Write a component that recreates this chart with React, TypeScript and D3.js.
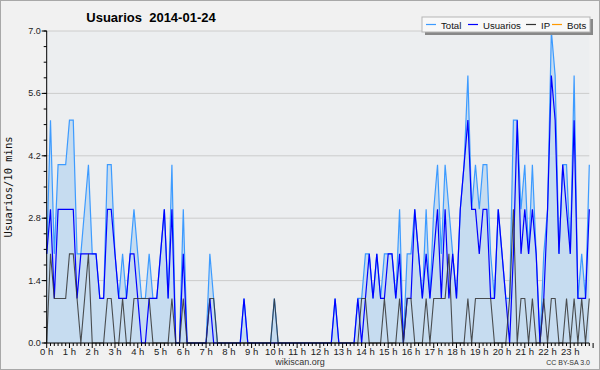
import React from 'react'
import * as d3 from 'd3'

// one value every 10 minutes, six per row = one hour per row
const usuarios = [
  2, 3, 1, 3, 3, 3,
  3, 3, 1, 2, 2, 2,
  2, 2, 1, 1, 3, 3,
  2, 1, 1, 1, 2, 2,
  1, 0, 0, 1, 1, 1,
  2, 3, 1, 3, 0, 0,
  2, 0, 0, 0, 0, 0,
  0, 1, 0, 0, 0, 0,
  0, 0, 0, 0, 1, 0,
  0, 0, 0, 0, 0, 0,
  0, 0, 0, 0, 0, 0,
  0, 0, 0, 0, 0, 0,
  0, 0, 0, 0, 1, 0,
  0, 0, 0, 0, 1, 0,
  1, 2, 1, 2, 1, 1,
  2, 2, 1, 2, 0, 1,
  1, 3, 2, 1, 2, 1,
  2, 3, 1, 3, 1, 2,
  1, 3, 4, 5, 3, 3,
  2, 3, 3, 1, 1, 3,
  2, 1, 0, 2, 5, 2,
  3, 2, 3, 2, 0, 1,
  3, 6, 5, 2, 4, 3,
  2, 5, 1, 1, 1, 3,
]

const ip = [
  0, 2, 1, 1, 1, 1,
  2, 2, 1, 0, 1, 2,
  0, 0, 0, 0, 1, 1,
  0, 0, 1, 0, 0, 1,
  1, 1, 1, 1, 0, 0,
  0, 0, 0, 1, 0, 0,
  1, 0, 0, 0, 0, 0,
  0, 1, 1, 0, 0, 0,
  0, 0, 0, 0, 0, 0,
  0, 0, 0, 0, 0, 0,
  1, 0, 0, 0, 0, 0,
  0, 0, 0, 0, 0, 0,
  0, 0, 0, 0, 0, 0,
  0, 0, 0, 0, 0, 1,
  1, 0, 0, 0, 0, 1,
  0, 0, 0, 1, 0, 1,
  1, 0, 0, 0, 1, 0,
  1, 1, 1, 1, 2, 0,
  0, 0, 0, 1, 0, 1,
  1, 1, 1, 1, 0, 0,
  0, 0, 1, 3, 0, 1,
  1, 0, 1, 0, 0, 1,
  0, 1, 1, 0, 0, 1,
  0, 1, 0, 1, 0, 1,
]

const total = [
  2, 5, 2, 4, 4, 4,
  5, 5, 2, 2, 3, 4,
  2, 2, 1, 1, 4, 4,
  2, 1, 2, 1, 2, 3,
  2, 1, 1, 2, 1, 1,
  2, 3, 1, 4, 0, 0,
  3, 0, 0, 0, 0, 0,
  0, 2, 1, 0, 0, 0,
  0, 0, 0, 0, 1, 0,
  0, 0, 0, 0, 0, 0,
  1, 0, 0, 0, 0, 0,
  0, 0, 0, 0, 0, 0,
  0, 0, 0, 0, 1, 0,
  0, 0, 0, 0, 1, 1,
  2, 2, 1, 2, 1, 2,
  2, 2, 1, 3, 0, 2,
  2, 3, 2, 1, 3, 1,
  3, 4, 2, 4, 3, 2,
  1, 3, 4, 6, 3, 4,
  3, 4, 4, 2, 1, 3,
  2, 1, 1, 5, 5, 3,
  4, 2, 4, 2, 0, 2,
  3, 7, 6, 2, 4, 4,
  2, 6, 1, 2, 1, 4,
]

const yTicks = [0, 1.4, 2.8, 4.2, 5.6, 7.0]
const hourLabels = d3.range(24).map((h) => `${h} h`)
const legendItems = [
  { name: 'Total', color: '#3d9bff', at: 426 },
  { name: 'Usuarios', color: '#0000ff', at: 468 },
  { name: 'IP', color: '#333333', at: 526 },
  { name: 'Bots', color: '#ff9900', at: 552 },
]

const W = 600
const H = 370
const margin = { top: 31, right: 10.7, bottom: 27, left: 46.7 }

const App = () => {
  const x = d3.scaleLinear().domain([0, total.length - 1]).range([margin.left, W - margin.right])
  const y = d3.scaleLinear().domain([0, 7]).range([H - margin.bottom, margin.top])
  const step = x(1) - x(0)

  const line = d3.line<number>().x((d, i) => x(i)).y((d) => y(d))
  const area = d3.area<number>().x((d, i) => x(i)).y0(y(0)).y1((d) => y(d))

  const minorY = d3.range(0, 7.001, 0.35)
  const minorX = d3.range(0, total.length + 1)
  const font = 'Liberation Sans, Arial, sans-serif'

  return (
    <svg width={W} height={H} style={{ position: 'absolute', left: 0, top: 0, display: 'block' }}>
      <rect x={0.5} y={0.5} width={W - 1} height={H - 1} fill="#f1f1f1" stroke="#a8a8a8" />
      <rect x={x(0)} y={y(7)} width={x(total.length - 1) - x(0)} height={y(0) - y(7)} fill="#eceef0" />

      <text x={151} y={22} textAnchor="middle" fontFamily={font} fontWeight="bold" fontSize={13} style={{ whiteSpace: 'pre' }}>
        {'Usuarios  2014-01-24'}
      </text>

      {yTicks.map((t) => (
        <g key={t}>
          <line x1={x(0)} x2={x(total.length - 1)} y1={y(t)} y2={y(t)} stroke="#cccccc" />
          <line x1={x(0) - 5} x2={x(0)} y1={y(t)} y2={y(t)} stroke="#000" />
          <text x={x(0) - 6} y={y(t) + 3} textAnchor="end" fontFamily={font} fontSize={9} fill="#222">
            {t.toFixed(1)}
          </text>
        </g>
      ))}
      {minorY.map((t, k) => (
        <line key={k} x1={x(0) - 3} x2={x(0)} y1={y(t)} y2={y(t)} stroke="#000" />
      ))}

      <path d={area(total) || ''} fill="#c6dcf0" />
      <path d={line(total) || ''} fill="none" stroke="#3d9bff" strokeWidth={1.2} />
      <path d={line(usuarios) || ''} fill="none" stroke="#0000ff" strokeWidth={1.2} />
      <path d={line(ip) || ''} fill="none" stroke="#333333" strokeWidth={1.1} opacity={0.85} />

      <line x1={x(0)} x2={x(0)} y1={y(7)} y2={y(0)} stroke="#000" />
      <line x1={x(0)} x2={W - margin.right} y1={y(0)} y2={y(0)} stroke="#000" />
      {minorX.map((k) => (
        <line key={k} x1={x(0) + k * step} x2={x(0) + k * step} y1={y(0)} y2={y(0) + (k % 6 === 0 ? 5 : 3)} stroke="#000" />
      ))}
      {hourLabels.map((lab, h) => (
        <text key={lab} x={x(h * 6)} y={355} textAnchor="middle" fontFamily={font} fontSize={9.5} fill="#222">
          {lab}
        </text>
      ))}

      <text x={300} y={365} textAnchor="middle" fontFamily={font} fontSize={9} fill="#333">wikiscan.org</text>
      <text x={590} y={365} textAnchor="end" fontFamily={font} fontSize={7} fill="#333">CC BY-SA 3.0</text>

      <text transform={`translate(12,${(y(0) + y(7)) / 2}) rotate(-90)`} textAnchor="middle" fontFamily="DejaVu Sans Mono, monospace" fontSize={10.5} fill="#111">
        Usuarios/10 mins
      </text>

      <g>
        <rect x={425} y={19} width={168} height={16} fill="#888888" />
        <rect x={422} y={17} width={168} height={15} fill="#f8f8f8" stroke="#b5b5b5" />
        {legendItems.map((it) => (
          <g key={it.name}>
            <line x1={it.at} x2={it.at + 10} y1={24.5} y2={24.5} stroke={it.color} strokeWidth={1.2} />
            <text x={it.at + 15} y={28.5} fontFamily={font} fontSize={9.6} fill="#111">{it.name}</text>
          </g>
        ))}
      </g>
    </svg>
  )
}

export default App
